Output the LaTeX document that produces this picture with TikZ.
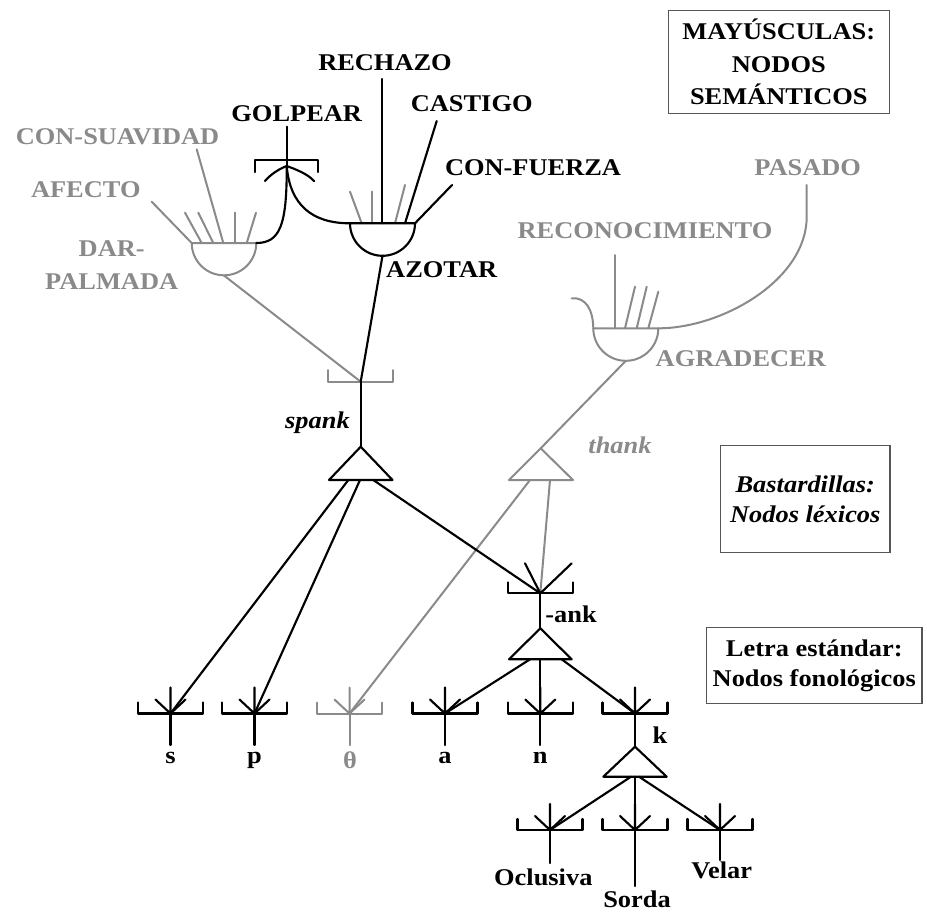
\documentclass[tikz,border=0pt]{standalone}
\usepackage{fontspec}
\setmainfont{Liberation Serif}[FakeStretch=1.1]
\definecolor{gr}{RGB}{138,138,138}
\definecolor{bx}{RGB}{85,85,85}
\tikzset{
  blk/.style={line width=1.6pt, draw=black, line cap=round, line join=round},
  gry/.style={line width=1.5pt, draw=gr, line cap=round, line join=round},
  lab/.style={inner sep=0pt, font=\bfseries\fontsize{18}{22}\selectfont},
  glab/.style={lab, text=gr},
  ilab/.style={inner sep=0pt, font=\bfseries\itshape\fontsize{18}{22}\selectfont},
  gilab/.style={ilab, text=gr},
  legend/.style={draw=bx, line width=0.9pt, inner sep=0pt, align=center},
}
\newcommand\mybrk[2]{\draw[#2] ([shift={(-32.5,-11)}]#1) -- ([shift={(-32.5,0)}]#1) -- ([shift={(32.5,0)}]#1) -- ([shift={(32.5,-11)}]#1);}
\newcommand\myfan[2]{\draw[#2] ([shift={(-15,-14)}]#1) -- (#1) -- ([shift={(15,-14)}]#1) (#1) -- ([shift={(0,-26)}]#1);}
\begin{document}
\begin{tikzpicture}[x=0.75pt,y=-0.75pt]
\useasboundingbox (0,0) rectangle (927,911);
% ---------- coordinates ----------
\coordinate (darL) at (191.7,243);
\coordinate (darR) at (256.3,243);
\coordinate (darB) at (224,275.5);
\coordinate (azL) at (350,223.3);
\coordinate (azR) at (415,223.3);
\coordinate (azB) at (382.5,255.8);
\coordinate (gol) at (286.7,166);
\coordinate (agL) at (593.3,328.3);
\coordinate (agR) at (658.3,328.3);
\coordinate (agB) at (625.8,360.8);
\coordinate (sbr) at (360.7,381.7);
\coordinate (spT) at (360.7,446.7);
\coordinate (spBL) at (329,480);
\coordinate (spBR) at (392.5,480);
\coordinate (spO1) at (348.3,480);
\coordinate (spO2) at (360,480);
\coordinate (spO3) at (373.3,480);
\coordinate (thT) at (540.7,448.3);
\coordinate (thBL) at (509,480);
\coordinate (thBR) at (573,480);
\coordinate (thO1) at (530,480);
\coordinate (thO2) at (550,480);
\coordinate (ank) at (540.3,593.3);
\coordinate (ankT) at (540.3,628.3);
\coordinate (ankBL) at (509,659.3);
\coordinate (ankBR) at (571.7,659.3);
\coordinate (ankO1) at (530,659.3);
\coordinate (ankO2) at (540.3,659.3);
\coordinate (ankO3) at (561.7,659.3);
\coordinate (ls) at (170.5,713.5);
\coordinate (lp) at (254.5,713.5);
\coordinate (lth) at (349.5,713.5);
\coordinate (la) at (445,713.5);
\coordinate (ln) at (540.3,713.5);
\coordinate (lk) at (635,713.5);
\coordinate (lsb) at (170.5,745);
\coordinate (lpb) at (254.5,745);
\coordinate (lthb) at (349.5,745);
\coordinate (lab) at (445,745);
\coordinate (lnb) at (540.3,745);
\coordinate (kT) at (635,746.7);
\coordinate (kBL) at (603.3,776.7);
\coordinate (kBR) at (666.7,776.7);
\coordinate (kO1) at (631,776.7);
\coordinate (kO2) at (635,776.7);
\coordinate (kO3) at (639,776.7);
\coordinate (ocl) at (550,830);
\coordinate (sor) at (635,830);
\coordinate (vel) at (720,830);
\coordinate (oclb) at (550,863);
\coordinate (sorb) at (635,886);
\coordinate (velb) at (720,860);
% free ends of semantic connectors
\coordinate (eAfe) at (151.7,201.7);
\coordinate (eSua) at (196.7,149.3);
\coordinate (sSua) at (223.3,243);
\coordinate (eGol) at (286.7,126.7);
\coordinate (eRec) at (382,79);
\coordinate (sRec) at (382,223.3);
\coordinate (eCas) at (436.7,121);
\coordinate (sCas) at (405,223.3);
\coordinate (eFue) at (452,185);
\coordinate (eRcn) at (615,255);
\coordinate (sRcn) at (615,328.3);
\coordinate (ePas) at (806.7,185);
\coordinate (mPas) at (806.7,216.7);
\coordinate (eCurl) at (571.7,298.3);
% ---------- DAR-PALMADA (gray) ----------
\draw[gry] (darL) -- (darR) arc[start angle=0,end angle=180,radius=32.3];
\draw[gry] (eAfe) -- (darL);
\draw[gry] (eSua) -- (sSua);
\draw[gry] (185,212.7) -- (201.7,243);
\draw[gry] (198.3,212.7) -- (213.3,243);
\draw[gry] (234.5,212.5) -- (234.5,243);
\draw[gry] (256,212.7) -- (246.7,243);
% ---------- GOLPEAR ----------
\draw[blk] (eGol) -- (gol);
\draw[blk] (255,172) -- (255,160) -- (318.3,160) -- (318.3,172);
\draw[blk] (gol) .. controls (279,169) and (271,174) .. (265,181);
\draw[blk] (gol) .. controls (295,169) and (308,174) .. (314,181);
\draw[blk] (gol) .. controls (287,225) and (280,243) .. (darR);
\draw[blk] (gol) .. controls (290,205) and (312,223.3) .. (azL);
% ---------- AZOTAR (black) ----------
\draw[gry] (350,191.7) -- (361.7,223.3);
\draw[gry] (371.7,191.7) -- (371.7,223.3);
\draw[gry] (405,185) -- (395,223.3);
\draw[blk] (azL) -- (azR) arc[start angle=0,end angle=180,radius=32.5];
\draw[blk] (eRec) -- (sRec);
\draw[blk] (eCas) -- (sCas);
\draw[blk] (eFue) -- (azR);
% ---------- AGRADECER (gray) ----------
\draw[gry] (agL) -- (agR) arc[start angle=0,end angle=180,radius=32.5];
\draw[gry] (eRcn) -- (sRcn);
\draw[gry] (635,286.7) -- (625,328.3);
\draw[gry] (646.7,286.7) -- (636.7,328.3);
\draw[gry] (658.3,291.7) -- (648.3,328.3);
\draw[gry] (eCurl) .. controls (586,297) and (593,310) .. (agL);
\draw[gry] (ePas) -- (mPas) .. controls (806.7,280) and (722,328.3) .. (agR);
% ---------- spank ----------
\draw[gry] ([shift={(-32.5,-11.7)}]sbr) -- ([shift={(-32.5,0)}]sbr) -- ([shift={(32.5,0)}]sbr) -- ([shift={(32.5,-11.7)}]sbr);
\draw[gry] (darB) -- (sbr);
\draw[blk] (azB) -- (sbr);
\draw[blk] (sbr) -- (spT);
\draw[blk] (spT) -- (spBR) -- (spBL) -- cycle;
% ---------- thank ----------
\draw[gry] (agB) -- (thT);
\draw[gry] (thT) -- (thBR) -- (thBL) -- cycle;
% ---------- lexical connections ----------
\draw[blk] (spO1) -- (ls);
\draw[blk] (spO2) -- (lp);
\draw[gry] (thO1) -- (lth);
\draw[gry] (thO2) -- (ank);
\draw[blk] (spO3) -- (ank);
% ---------- -ank ----------
\mybrk{ank}{blk}
\draw[blk] (525,563.3) -- (ank) -- (571.7,563.3);
\draw[blk] (ank) -- (ankT);
\draw[blk] (ankT) -- (ankBR) -- (ankBL) -- cycle;
\draw[blk] (ankO1) -- (la);
\draw[blk] (ankO2) -- (ln);
\draw[blk] (ankO3) -- (lk);
% ---------- phonological leaves ----------
\mybrk{ls}{blk} \myfan{ls}{blk} \draw[blk] (ls) -- (lsb);
\mybrk{lp}{blk} \myfan{lp}{blk} \draw[blk] (lp) -- (lpb);
\mybrk{lth}{gry} \myfan{lth}{gry} \draw[gry] (lth) -- (lthb);
\mybrk{la}{blk} \myfan{la}{blk} \draw[blk] (la) -- (lab);
\mybrk{ln}{blk} \myfan{ln}{blk} \draw[blk] (ln) -- (lnb);
\mybrk{lk}{blk} \myfan{lk}{blk}
\draw[blk] (lk) -- (kT);
\draw[blk] (kT) -- (kBR) -- (kBL) -- cycle;
\draw[blk] (kO1) -- (ocl);
\draw[blk] (kO2) -- (sor);
\draw[blk] (kO3) -- (vel);
\mybrk{ocl}{blk} \myfan{ocl}{blk} \draw[blk] (ocl) -- (oclb);
\mybrk{sor}{blk} \myfan{sor}{blk} \draw[blk] (sor) -- (sorb);
\mybrk{vel}{blk} \myfan{vel}{blk} \draw[blk] (vel) -- (velb);
% ---------- labels ----------
\node[lab] (tRec) at (385,62.5) {RECHAZO};
\node[lab] (tCas) at (471.7,104) {CASTIGO};
\node[lab] (tFue) at (533,168) {CON-FUERZA};
\node[lab] (tGol) at (296.7,114) {GOLPEAR};
\node[glab] (tSua) at (117.5,136.7) {CON-SUAVIDAD};
\node[glab] (tAfe) at (85.8,190) {AFECTO};
\node[glab, align=center, font=\bfseries\fontsize{18}{25}\selectfont] (tDar) at (111.7,265) {DAR-\\PALMADA};
\node[lab] (tAzo) at (441.7,270) {AZOTAR};
\node[glab] (tPas) at (807.7,168) {PASADO};
\node[glab] (tRcn) at (645,231) {RECONOCIMIENTO};
\node[glab] (tAgr) at (740.8,358.3) {AGRADECER};
\node[ilab] (tSpank) at (317.5,423) {spank};
\node[gilab] (tThank) at (620,445) {thank};
\node[lab] (tAnk) at (571,614) {-ank};
\node[lab] (tS) at (170.5,757.5) {s};
\node[lab] (tP) at (254.5,760) {p};
\node[glab] (tTh) at (350,760) {θ};
\node[lab] (tA) at (445,757.5) {a};
\node[lab] (tN) at (540.3,757.5) {n};
\node[lab] (tK) at (660,735) {k};
\node[lab] (tOcl) at (543.3,877) {Oclusiva};
\node[lab] (tSor) at (637,899) {Sorda};
\node[lab] (tVel) at (721.7,870.5) {Velar};
% ---------- legends ----------
\node[legend, minimum width=165.75pt, minimum height=77pt, font=\bfseries\fontsize{18}{24.4}\selectfont] (legM) at (778.8,62) {MAYÚSCULAS:\\NODOS\\SEMÁNTICOS};
\node[legend, minimum width=127pt, minimum height=80pt, font=\bfseries\itshape\fontsize{18}{22.5}\selectfont] (legB) at (805.3,499) {Bastardillas:\\Nodos léxicos};
\node[legend, minimum width=161.5pt, minimum height=57pt, font=\bfseries\fontsize{18}{22.5}\selectfont] (legL) at (814.3,665.3) {Letra estándar:\\Nodos fonológicos};
\end{tikzpicture}
\end{document}
